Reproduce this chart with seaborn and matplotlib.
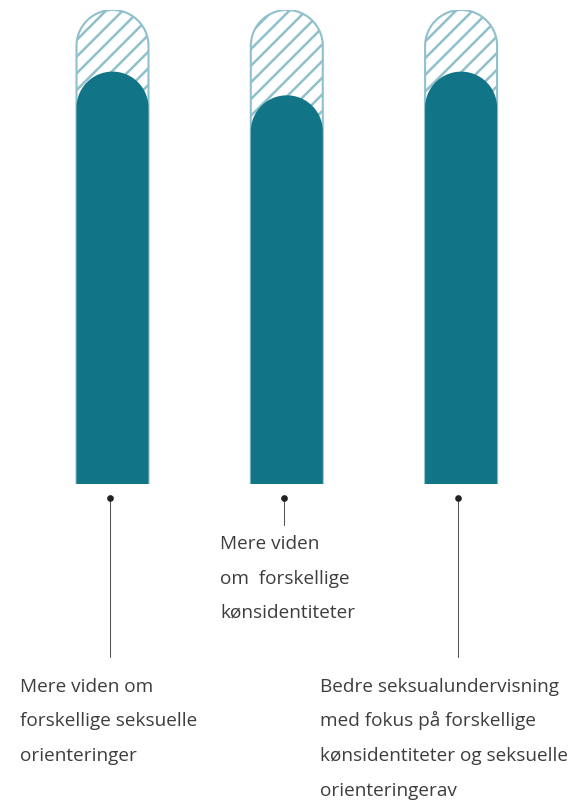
import numpy as np
import pandas as pd
import matplotlib
matplotlib.use("Agg")
import matplotlib.pyplot as plt
import seaborn as sns
from matplotlib.patches import Polygon

# data
categories = ["seksuelle orienteringer", "kønsidentiteter", "seksualundervisning"]
values = [87, 82, 87]
full = [100, 100, 100]
labels = [
    "Mere viden om\nforskellige seksuelle\norienteringer",
    "Mere viden\nom  forskellige\nkønsidentiteter",
    "Bedre seksualundervisning\nmed fokus på forskellige\nkønsidentiteter og seksuelle\norienteringerav",
]

# layout (pixels)
W, H, DPI = 569, 803, 150
label_x = [20, 220, 320]
label_top = [692, 549, 692]
leader_end = [657, 525, 657]
line_gap = 34.5
bar_w = 0.413
teal = "#117487"
light = "#8fc0cb"
text_col = "#3d3d3d"

sns.set_theme(style="white")
plt.rcParams["font.family"] = ["Open Sans", "DejaVu Sans"]
plt.rcParams["hatch.linewidth"] = 1.2
plt.rcParams["hatch.color"] = light

fig = plt.figure(figsize=(W / DPI, H / DPI), dpi=DPI)
ax = fig.add_axes([0, 319 / H, 1, 474 / H])

df = pd.DataFrame({"cat": categories, "value": values, "full": full})
sns.barplot(data=df, x="cat", y="full", ax=ax, color="white", width=bar_w,
            saturation=1, errorbar=None)
sns.barplot(data=df, x="cat", y="value", ax=ax, color=teal, width=bar_w,
            saturation=1, errorbar=None)

x_span = 174.3
ax.set_xlim(-112.5 / x_span, (W - 112.5) / x_span)
ax.set_ylim(0, 100)
ax.axis("off")
px_y = 474 / 100


def pill(p, **kw):
    x0, w, h = p.get_x(), p.get_width(), p.get_height()
    rx = w / 2
    ry = rx * x_span / px_y
    t = np.linspace(0, np.pi, 80)
    arc = np.column_stack([x0 + rx + rx * np.cos(t), h - ry + ry * np.sin(t)])
    pts = np.vstack([[x0 + w, 0], arc, [x0, 0]])
    return Polygon(pts, closed=True, **kw)


bars = list(ax.patches)
shapes = []
for i, p in enumerate(bars):
    if i < 3:
        shapes.append(pill(p, facecolor="white", edgecolor=light, hatch="///",
                           linewidth=1.0, zorder=2))
    else:
        shapes.append(pill(p, facecolor=teal, edgecolor="none", zorder=3))
    p.remove()
for s in shapes:
    ax.add_patch(s)

# leader lines and labels
dx = -3 / x_span
for i, lab in enumerate(labels):
    y_dot = -(497.5 - 484) / px_y
    y_end = -(leader_end[i] - 484) / px_y
    ax.plot([i + dx, i + dx], [y_dot, y_end], color="#555555", lw=0.5, clip_on=False)
    ax.plot(i + dx, y_dot, "o", color="#222222", ms=2.2, clip_on=False)
    for j, line in enumerate(lab.split("\n")):
        yb = label_top[i] + j * line_gap
        fig.text(label_x[i] / W, 1 - yb / H, line, fontsize=19 * 72 / DPI,
                 color=text_col, va="baseline", ha="left")

fig.savefig("out.png", dpi=DPI)
